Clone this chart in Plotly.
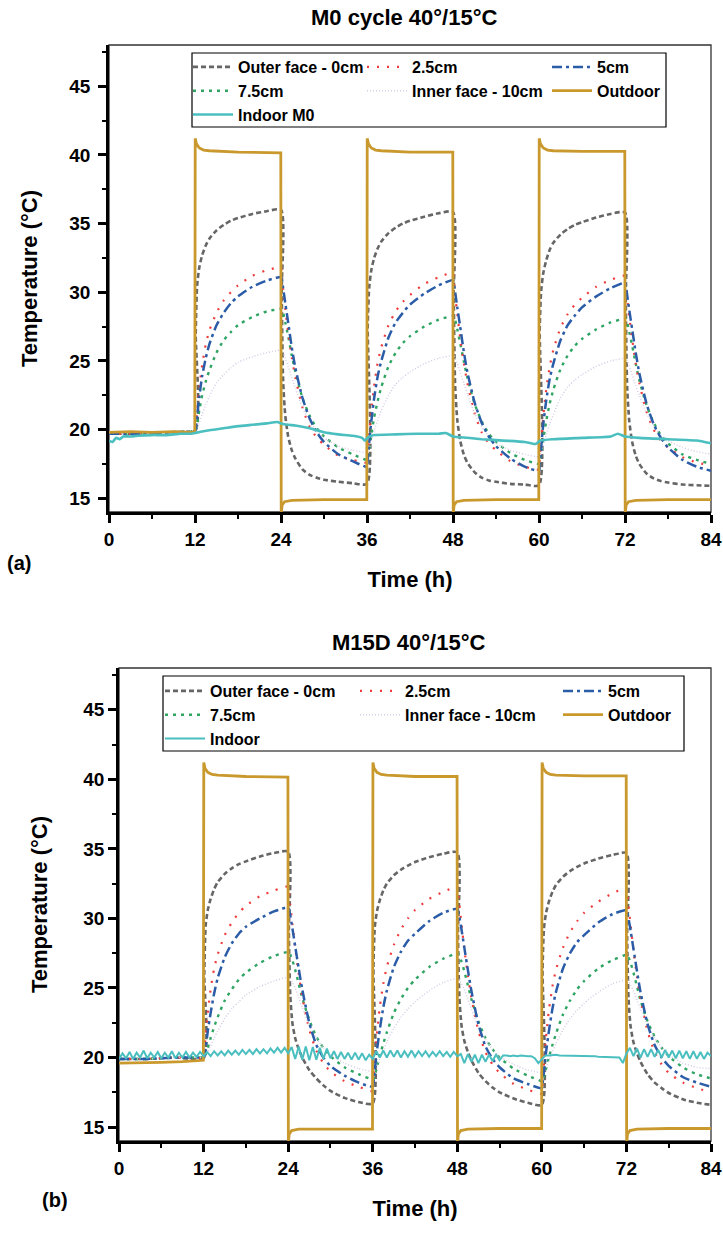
import plotly.graph_objects as go

# ---------------- DATA ----------------
# common time grid for the in-wall sensors (h)
t_sens = [0, 4, 8, 12,
          12.1, 12.3, 12.6, 13, 13.5, 14, 15, 16, 17, 18, 20, 22, 24,
          24.1, 24.3, 24.6, 25, 25.5, 26, 27, 28, 29, 30, 32, 34, 36,
          36.1, 36.3, 36.6, 37, 37.5, 38, 39, 40, 41, 42, 44, 46, 48,
          48.1, 48.3, 48.6, 49, 49.5, 50, 51, 52, 53, 54, 56, 58, 60,
          60.1, 60.3, 60.6, 61, 61.5, 62, 63, 64, 65, 66, 68, 70, 72,
          72.1, 72.3, 72.6, 73, 73.5, 74, 75, 76, 77, 78, 80, 82, 84]

# ---- (a) M0 ----
a_outer = [19.7, 19.7, 19.8, 19.9,
           27.0, 30.5, 31.8, 32.7, 33.4, 33.9, 34.5, 34.9, 35.2, 35.4, 35.7, 35.9, 36.0,
           30.0, 23.5, 21.0, 19.5, 18.5, 17.9, 17.1, 16.7, 16.5, 16.35, 16.2, 16.1, 16.05,
           27.5, 30.3, 31.6, 32.5, 33.2, 33.7, 34.3, 34.7, 35.0, 35.2, 35.5, 35.75, 35.85,
           29.8, 23.2, 20.7, 19.2, 18.2, 17.6, 16.9, 16.5, 16.3, 16.2, 16.05, 16.0, 15.95,
           27.3, 30.1, 31.4, 32.3, 33.1, 33.6, 34.2, 34.6, 34.9, 35.1, 35.45, 35.7, 35.8,
           29.7, 23.1, 20.6, 19.1, 18.1, 17.5, 16.8, 16.45, 16.25, 16.15, 16.0, 15.95, 15.9]
a_25 = [19.7, 19.7, 19.8, 19.9,
        20.3, 21.4, 23.0, 24.7, 26.2, 27.2, 28.5, 29.4, 30.0, 30.5, 31.2, 31.6, 31.8,
        31.3, 30.2, 28.8, 27.1, 25.3, 23.8, 21.6, 20.2, 19.4, 18.9, 18.1, 17.8, 17.6,
        18.3, 19.6, 21.4, 23.2, 24.9, 26.0, 27.6, 28.6, 29.3, 29.8, 30.6, 31.1, 31.4,
        30.9, 29.8, 28.4, 26.7, 24.9, 23.4, 21.2, 19.8, 19.0, 18.5, 17.7, 17.3, 17.1,
        17.8, 19.1, 21.0, 22.9, 24.6, 25.8, 27.4, 28.4, 29.1, 29.6, 30.4, 30.9, 31.2,
        30.7, 29.6, 28.2, 26.6, 24.8, 23.4, 21.3, 20.0, 19.2, 18.7, 18.0, 17.6, 17.4]
a_5 = [19.7, 19.7, 19.8, 19.9,
       20.0, 21.0, 22.4, 23.9, 25.2, 26.2, 27.6, 28.5, 29.2, 29.7, 30.4, 30.85, 31.1,
       31.0, 30.3, 29.2, 27.8, 26.0, 24.5, 22.3, 20.8, 19.8, 19.1, 18.2, 17.7, 17.3,
       17.8, 19.0, 20.6, 22.3, 23.9, 25.0, 26.7, 27.8, 28.5, 29.1, 29.9, 30.5, 30.9,
       30.8, 30.0, 28.9, 27.5, 25.7, 24.2, 22.0, 20.5, 19.5, 18.8, 17.9, 17.3, 17.0,
       17.5, 18.7, 20.4, 22.1, 23.7, 24.8, 26.5, 27.6, 28.3, 28.9, 29.7, 30.3, 30.7,
       30.6, 29.8, 28.7, 27.3, 25.6, 24.1, 21.9, 20.4, 19.4, 18.7, 17.8, 17.3, 17.0]
a_75 = [19.7, 19.7, 19.8, 19.9,
        19.9, 20.4, 21.4, 22.5, 23.5, 24.3, 25.6, 26.5, 27.1, 27.6, 28.2, 28.6, 28.8,
        28.8, 28.5, 27.8, 26.8, 25.4, 24.2, 22.3, 21.0, 20.1, 19.5, 18.7, 18.2, 17.8,
        17.9, 18.5, 19.6, 20.9, 22.1, 23.1, 24.6, 25.6, 26.3, 26.8, 27.5, 28.0, 28.3,
        28.3, 28.0, 27.3, 26.3, 25.0, 23.8, 21.9, 20.6, 19.7, 19.1, 18.3, 17.8, 17.5,
        17.6, 18.2, 19.3, 20.6, 21.9, 22.9, 24.4, 25.4, 26.1, 26.6, 27.3, 27.8, 28.1,
        28.1, 27.8, 27.1, 26.1, 24.8, 23.6, 21.8, 20.5, 19.6, 19.0, 18.2, 17.8, 17.5]
a_inner = [19.7, 19.7, 19.8, 19.9,
           19.8, 20.0, 20.5, 21.1, 21.8, 22.4, 23.4, 24.0, 24.5, 24.9, 25.3, 25.6, 25.8,
           25.8, 25.6, 25.2, 24.6, 23.8, 23.0, 21.6, 20.6, 19.9, 19.4, 18.8, 18.5, 18.3,
           18.3, 18.6, 19.2, 19.9, 20.7, 21.4, 22.5, 23.3, 23.8, 24.2, 24.8, 25.2, 25.4,
           25.4, 25.2, 24.8, 24.2, 23.4, 22.6, 21.2, 20.2, 19.5, 19.0, 18.5, 18.2, 18.0,
           18.0, 18.3, 18.9, 19.6, 20.4, 21.1, 22.3, 23.1, 23.6, 24.0, 24.6, 25.0, 25.2,
           25.2, 25.0, 24.6, 24.0, 23.2, 22.5, 21.2, 20.3, 19.6, 19.2, 18.7, 18.4, 18.2]

# ---- (b) M15D ----
b_outer = [19.9, 19.9, 20.0, 20.0,
           26.0, 29.5, 30.6, 31.4, 32.1, 32.6, 33.2, 33.6, 33.9, 34.1, 34.45, 34.7, 34.8,
           29.0, 24.5, 22.5, 21.4, 20.6, 20.0, 19.1, 18.5, 18.0, 17.6, 17.1, 16.8, 16.7,
           26.5, 29.4, 30.5, 31.3, 32.0, 32.5, 33.1, 33.5, 33.8, 34.05, 34.4, 34.65, 34.75,
           28.8, 24.3, 22.3, 21.2, 20.4, 19.8, 18.9, 18.3, 17.85, 17.5, 17.05, 16.75, 16.6,
           26.3, 29.3, 30.4, 31.2, 31.9, 32.4, 33.0, 33.4, 33.7, 33.95, 34.3, 34.55, 34.7,
           28.7, 24.2, 22.2, 21.1, 20.3, 19.7, 18.8, 18.2, 17.8, 17.45, 17.0, 16.75, 16.6]
b_25 = [19.9, 19.9, 20.0, 20.0,
        20.4, 21.6, 23.2, 24.9, 26.4, 27.4, 28.8, 29.7, 30.4, 30.9, 31.6, 32.0, 32.3,
        32.0, 31.0, 29.6, 27.9, 26.0, 24.4, 22.0, 20.5, 19.6, 19.0, 18.3, 17.9, 17.6,
        18.4, 19.8, 21.7, 23.6, 25.3, 26.5, 28.1, 29.2, 30.0, 30.6, 31.4, 31.9, 32.3,
        32.0, 31.0, 29.6, 27.8, 25.9, 24.3, 21.9, 20.4, 19.5, 18.9, 18.1, 17.7, 17.4,
        18.2, 19.6, 21.5, 23.4, 25.1, 26.3, 27.9, 29.0, 29.8, 30.4, 31.2, 31.8, 32.2,
        31.9, 30.9, 29.5, 27.7, 25.8, 24.2, 21.9, 20.4, 19.5, 18.9, 18.2, 17.8, 17.5]
b_5 = [19.9, 19.9, 20.0, 20.0,
       20.0, 20.7, 21.9, 23.2, 24.6, 25.7, 27.2, 28.2, 28.9, 29.4, 30.0, 30.5, 30.8,
       30.7, 30.2, 29.3, 28.0, 26.4, 24.9, 22.5, 20.9, 20.0, 19.4, 18.7, 18.2, 17.9,
       18.2, 19.1, 20.5, 22.0, 23.6, 24.8, 26.5, 27.6, 28.4, 28.9, 29.8, 30.4, 30.7,
       30.6, 30.1, 29.2, 27.9, 26.3, 24.8, 22.4, 20.8, 19.9, 19.3, 18.5, 18.1, 17.8,
       18.1, 19.0, 20.4, 21.9, 23.5, 24.7, 26.4, 27.5, 28.3, 28.8, 29.7, 30.3, 30.6,
       30.5, 30.0, 29.1, 27.8, 26.2, 24.7, 22.4, 20.9, 20.0, 19.4, 18.6, 18.2, 17.9]
b_75 = [19.9, 19.9, 20.0, 20.0,
        20.0, 20.2, 20.7, 21.4, 22.2, 22.9, 24.1, 24.9, 25.6, 26.1, 26.8, 27.3, 27.6,
        27.6, 27.4, 27.0, 26.3, 25.3, 24.3, 22.7, 21.5, 20.7, 20.1, 19.3, 18.8, 18.4,
        18.4, 18.7, 19.3, 20.1, 21.0, 21.8, 23.2, 24.2, 25.0, 25.6, 26.5, 27.1, 27.5,
        27.5, 27.3, 26.9, 26.2, 25.2, 24.2, 22.6, 21.4, 20.6, 20.0, 19.2, 18.7, 18.3,
        18.3, 18.6, 19.2, 20.0, 20.9, 21.7, 23.1, 24.1, 24.9, 25.5, 26.4, 27.0, 27.4,
        27.4, 27.2, 26.8, 26.1, 25.1, 24.1, 22.6, 21.5, 20.7, 20.1, 19.3, 18.8, 18.5]
b_inner = [19.9, 19.9, 20.0, 20.0,
           20.0, 20.1, 20.4, 20.8, 21.4, 21.9, 22.8, 23.5, 24.0, 24.5, 25.1, 25.5, 25.8,
           25.8, 25.7, 25.4, 25.0, 24.3, 23.6, 22.3, 21.4, 20.7, 20.2, 19.6, 19.2, 19.0,
           19.0, 19.1, 19.4, 19.9, 20.5, 21.1, 22.1, 22.9, 23.5, 24.0, 24.8, 25.4, 25.7,
           25.7, 25.6, 25.3, 24.9, 24.2, 23.5, 22.2, 21.3, 20.6, 20.1, 19.5, 19.1, 18.9,
           18.9, 19.0, 19.3, 19.8, 20.4, 21.0, 22.0, 22.8, 23.4, 23.9, 24.7, 25.3, 25.6,
           25.6, 25.5, 25.2, 24.8, 24.1, 23.5, 22.3, 21.4, 20.7, 20.2, 19.6, 19.3, 19.2]

# outdoor (climatic chamber) temperature
t_out = [0, 3, 6, 9, 11.97,
         12.03, 12.2, 12.6, 13.2, 14, 18, 23.97,
         24.03, 24.15, 24.5, 25.5, 30, 35.97,
         36.03, 36.2, 36.6, 37.2, 38, 42, 47.97,
         48.03, 48.15, 48.5, 49.5, 54, 59.97,
         60.03, 60.2, 60.6, 61.2, 62, 66, 71.97,
         72.03, 72.15, 72.5, 73.5, 78, 84]
a_outdoor = [19.8, 19.85, 19.8, 19.85, 19.8,
             41.2, 40.8, 40.5, 40.35, 40.3, 40.2, 40.15,
             13.8, 14.5, 14.75, 14.85, 14.9, 14.9,
             41.2, 40.8, 40.5, 40.35, 40.3, 40.2, 40.2,
             13.8, 14.5, 14.75, 14.85, 14.9, 14.9,
             41.2, 40.8, 40.5, 40.35, 40.3, 40.25, 40.25,
             13.8, 14.5, 14.75, 14.85, 14.9, 14.9]
b_outdoor = [19.6, 19.6, 19.65, 19.7, 19.8,
             41.2, 40.8, 40.5, 40.35, 40.3, 40.2, 40.15,
             13.8, 14.5, 14.75, 14.85, 14.85, 14.85,
             41.2, 40.8, 40.5, 40.35, 40.3, 40.2, 40.2,
             13.8, 14.5, 14.75, 14.85, 14.9, 14.9,
             41.2, 40.8, 40.5, 40.35, 40.3, 40.25, 40.25,
             13.8, 14.5, 14.75, 14.85, 14.9, 14.9]

# indoor temperatures
t_in_a = [0, 0.5, 1, 1.5, 2, 3, 4, 6, 8, 10, 11.5, 12, 14, 16, 18, 20, 22, 23.5, 24,
          25, 26, 28, 30, 32, 34, 35.3, 35.7, 36.2, 37, 40, 43, 46, 47, 48, 50, 52,
          55, 58, 59.5, 60.2, 62, 66, 70, 71, 72, 74, 78, 82, 84]
a_indoor = [19.2, 19.1, 19.4, 19.3, 19.5, 19.5, 19.55, 19.6, 19.6, 19.7, 19.7, 19.75,
            19.95, 20.1, 20.25, 20.35, 20.45, 20.55, 20.45, 20.35, 20.3, 20.1, 19.8,
            19.65, 19.55, 19.4, 19.2, 19.45, 19.6, 19.65, 19.7, 19.7, 19.75, 19.5, 19.4,
            19.3, 19.2, 19.1, 18.95, 19.2, 19.3, 19.4, 19.5, 19.7, 19.5, 19.4, 19.3,
            19.2, 19.0]
t_in_b = [0, 0.5, 1, 1.5, 2, 2.5, 3, 3.5, 4, 4.5, 5, 5.5, 6, 6.5, 7, 7.5, 8, 8.5, 9, 9.5,
          10, 10.5, 11, 11.5, 12, 12.5, 13, 13.5, 14, 14.5, 15, 15.5, 16, 16.5, 17, 17.5,
          18, 18.5, 19, 19.5, 20, 20.5, 21, 21.5, 22, 22.5, 23, 23.5, 24, 24.5, 25, 25.5,
          26, 26.5, 27, 27.5, 28, 28.5, 29, 29.5, 30, 30.5, 31, 31.5, 32, 32.5, 33, 33.5,
          34, 34.5, 35, 35.5, 36, 36.5, 37, 37.5, 38, 38.5, 39, 39.5, 40, 40.5, 41, 41.5,
          42, 42.5, 43, 43.5, 44, 44.5, 45, 45.5, 46, 46.5, 47, 47.5, 48, 48.5, 49, 49.5,
          50, 50.5, 51, 51.5, 52, 52.5, 53, 53.5, 54, 54.5, 55, 55.5, 56, 56.5, 57, 57.5,
          58, 58.5, 59, 59.5, 60, 60.5, 61, 61.5, 62, 62.5, 63, 63.5, 64, 64.5, 65, 65.5,
          66, 66.5, 67, 67.5, 68, 68.5, 69, 69.5, 70, 70.5, 71, 71.5, 72, 72.5, 73, 73.5,
          74, 74.5, 75, 75.5, 76, 76.5, 77, 77.5, 78, 78.5, 79, 79.5, 80, 80.5, 81, 81.5,
          82, 82.5, 83, 83.5, 84]
b_indoor = [19.9, 20.3, 19.95, 20.4, 19.9, 20.35, 20.0, 20.5, 19.95, 20.35, 20.0, 20.4,
            19.95, 20.35, 20.0, 20.45, 19.95, 20.35, 20.0, 20.4, 20.0, 20.35, 20.05, 20.4,
            20.1, 20.4, 20.1, 20.45, 20.15, 20.45, 20.15, 20.5, 20.2, 20.5, 20.2, 20.55,
            20.25, 20.55, 20.25, 20.6, 20.3, 20.6, 20.3, 20.65, 20.35, 20.7, 20.35, 20.7,
            20.3, 20.75, 19.9, 20.8, 19.85, 20.8, 19.8, 20.75, 19.85, 20.7, 19.9, 20.65,
            19.95, 20.45, 19.9, 20.4, 19.9, 20.35, 19.85, 20.35, 19.85, 20.3, 19.8, 20.2,
            19.9, 20.45, 20.0, 20.5, 20.0, 20.5, 20.05, 20.5, 20.0, 20.45, 20.05, 20.5,
            20.05, 20.45, 20.1, 20.45, 20.05, 20.4, 20.1, 20.45, 20.1, 20.4, 20.05, 20.4,
            20.1, 20.25, 19.6, 20.25, 19.7, 20.2, 19.6, 20.2, 19.7, 20.2, 19.75, 20.2,
            19.8, 20.15, 20.15, 20.1, 20.15, 20.1, 20.15, 20.1, 20.1, 20.1, 19.95, 19.6,
            19.9, 20.15, 20.15, 20.2, 20.2, 20.15, 20.15, 20.15, 20.1, 20.1, 20.1, 20.1,
            20.1, 20.1, 20.1, 20.1, 20.05, 20.05, 20.05, 20.05, 20.05, 20.05, 20.0, 19.6,
            20.3, 20.7, 20.1, 20.65, 20.0, 20.6, 20.05, 20.6, 20.05, 20.55, 20.0, 20.55,
            20.0, 20.5, 19.95, 20.5, 19.95, 20.45, 19.9, 20.45, 19.9, 20.4, 19.9, 20.35,
            20.1]

names = ["Outer face - 0cm", "2.5cm", "5cm", "7.5cm", "Inner face - 10cm", "Outdoor"]
titles = ["M0 cycle 40°/15°C", "M15D 40°/15°C"]
panel_labels = ["(a)", "(b)"]
x_ticks = [0, 12, 24, 36, 48, 60, 72, 84]

for arr in [a_outer, a_25, a_5, a_75, a_inner, b_outer, b_25, b_5, b_75, b_inner]:
    assert len(arr) == len(t_sens)
assert len(a_outdoor) == len(t_out) and len(b_outdoor) == len(t_out)
assert len(a_indoor) == len(t_in_a) and len(b_indoor) == len(t_in_b)

# ---------------- STYLE ----------------
FONT = "Liberation Sans"
W, H = 723, 1234
styles = [
    dict(color="#666666", dash="5px,3px", width=2.6),
    dict(color="#ee3b3b", dash="2px,8px", width=2.2),
    dict(color="#2b5ca8", dash="10px,4px,3px,4px", width=2.5),
    dict(color="#2fa463", dash="3px,5px", width=2.4),
    dict(color="#d6cbe4", dash="1px,2px", width=1.5),
]
out_style = dict(color="#c9992e", width=2.8)
in_color = "#4bbfc0"

# panel geometry in pixels: (left, right, top, bottom)
geo = [(109, 711, 45, 512), (119, 711, 668, 1141)]
leg_cols = [(188, 362, 547), (160, 355, 558)]
leg_top = [50, 674]
leg_box = [(192, 666, 53, 127), (163, 684, 676, 751)]
title_pos = [(404, 17), (408, 642)]
panel_pos = [(19, 563), (55, 1200)]
ytick_standoff = [4, 0]
ytitle_standoff = [26, 30]

fig = go.Figure()

panels = [
    dict(sens=[a_outer, a_25, a_5, a_75, a_inner], out=a_outdoor, tin=t_in_a,
         ind=a_indoor, ind_name="Indoor M0", ind_line=dict(width=2.6, shape="spline", smoothing=0.5)),
    dict(sens=[b_outer, b_25, b_5, b_75, b_inner], out=b_outdoor, tin=t_in_b,
         ind=b_indoor, ind_name="Indoor", ind_line=dict(width=2.0, shape="linear")),
]

# legend columns: col1: outer, 7.5, indoor ; col2: 2.5, inner ; col3: 5, outdoor
col_of = {0: 0, 3: 0, 1: 1, 4: 1, 2: 2}

for p, pan in enumerate(panels):
    xa = "x" if p == 0 else "x2"
    ya = "y" if p == 0 else "y2"
    legs = [f"legend{3 * p + c + 1}" if 3 * p + c > 0 else "legend" for c in range(3)]
    for i in [0, 3, 1, 4, 2]:
        fig.add_trace(go.Scatter(
            x=t_sens, y=pan["sens"][i], name=names[i], mode="lines",
            line=dict(shape="spline", smoothing=0.6, **styles[i]),
            xaxis=xa, yaxis=ya, legend=legs[col_of[i]]))
    fig.add_trace(go.Scatter(
        x=t_out, y=pan["out"], name=names[5], mode="lines", line=out_style,
        xaxis=xa, yaxis=ya, legend=legs[2]))
    fig.add_trace(go.Scatter(
        x=pan["tin"], y=pan["ind"], name=pan["ind_name"], mode="lines",
        line=dict(color=in_color, **pan["ind_line"]),
        xaxis=xa, yaxis=ya, legend=legs[0]))

layout = dict(
    width=W, height=H, margin=dict(l=0, r=0, t=0, b=0),
    paper_bgcolor="white", plot_bgcolor="white",
    font=dict(family=FONT, color="black"),
    showlegend=True,
)

tickfont = dict(family=FONT, size=19, color="black", weight="bold")
titlefont = dict(family=FONT, size=22, color="black", weight="bold")

for p in range(2):
    l, r, t, b = geo[p]
    sx = "" if p == 0 else "2"
    layout[f"xaxis{sx}"] = dict(
        domain=[l / W, r / W], range=[0, 84], tickmode="array", tickvals=x_ticks,
        ticks="outside", ticklen=8, tickwidth=2.5, tickcolor="black",
        minor=dict(ticks="outside", ticklen=4, tickwidth=2, tickcolor="black", dtick=6, tick0=0),
        showline=True, linewidth=2.5, linecolor="black", mirror=False,
        showgrid=False, zeroline=False, tickfont=tickfont, ticklabeloverflow="allow",
        title=dict(text="Time (h)", font=titlefont, standoff=24),
        anchor="y" if p == 0 else "y2", automargin=False,
    )
    layout[f"yaxis{sx}"] = dict(
        domain=[1 - b / H, 1 - t / H], range=[14, 48], tickmode="linear", tick0=15, dtick=5,
        ticks="outside", ticklen=8, tickwidth=2.5, tickcolor="black",
        minor=dict(ticks="outside", ticklen=4, tickwidth=2, tickcolor="black", dtick=2.5, tick0=15),
        showline=True, linewidth=2.5, linecolor="black", mirror=False,
        showgrid=False, zeroline=False, tickfont=tickfont,
        ticklabelstandoff=ytick_standoff[p],
        title=dict(text="Temperature (°C)", font=titlefont, standoff=ytitle_standoff[p]),
        anchor="x" if p == 0 else "x2", automargin=False,
    )
    for c in range(3):
        key = "legend" if 3 * p + c == 0 else f"legend{3 * p + c + 1}"
        layout[key] = dict(
            x=leg_cols[p][c] / W, y=1 - leg_top[p] / H, xanchor="left", yanchor="top",
            orientation="v", bgcolor="rgba(0,0,0,0)", borderwidth=0,
            font=dict(family=FONT, size=16, color="black", weight="bold"),
            itemwidth=40, tracegroupgap=0,
        )

shapes = []
annotations = []
for p in range(2):
    xs = "x" if p == 0 else "x2"
    ys = "y" if p == 0 else "y2"
    shapes.append(dict(type="rect", xref=f"{xs} domain", yref=f"{ys} domain",
                       x0=0, x1=1, y0=0, y1=1, line=dict(color="#333333", width=1.3),
                       layer="below"))
    l, r, t, b = leg_box[p]
    shapes.append(dict(type="rect", xref="paper", yref="paper",
                       x0=l / W, x1=r / W, y0=1 - b / H, y1=1 - t / H,
                       line=dict(color="black", width=1.2), layer="above"))
    annotations.append(dict(text=titles[p], xref="paper", yref="paper",
                            x=title_pos[p][0] / W, y=1 - title_pos[p][1] / H,
                            xanchor="center", yanchor="middle", showarrow=False,
                            font=dict(family=FONT, size=22, color="black", weight="bold")))
    annotations.append(dict(text=panel_labels[p], xref="paper", yref="paper",
                            x=panel_pos[p][0] / W, y=1 - panel_pos[p][1] / H,
                            xanchor="center", yanchor="middle", showarrow=False,
                            font=dict(family=FONT, size=20, color="black", weight="bold")))

layout["shapes"] = shapes
layout["annotations"] = annotations
fig.update_layout(**layout)

# remove the browser's default 8px body margin so the figure sits at the page origin
fig.write_html("out.html",
               config={"displayModeBar": False},
               post_script="document.body.style.margin='0px';document.body.style.overflow='hidden';")
